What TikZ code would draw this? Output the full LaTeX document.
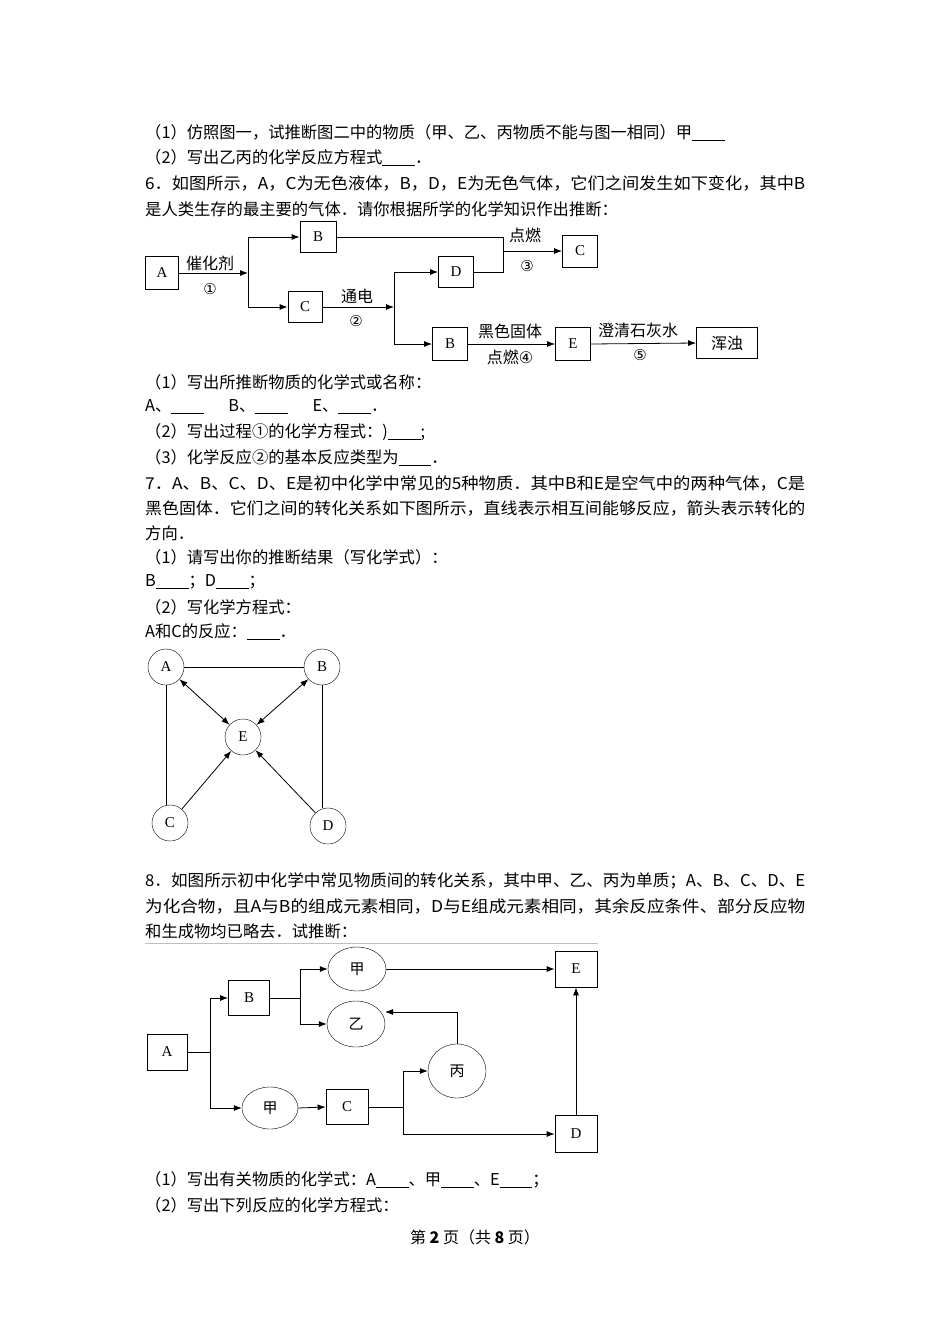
\documentclass[tikz,border=0pt]{standalone}
\usepackage{fontspec}
\usepackage{graphicx}
\setmainfont{Liberation Serif}
\newfontfamily\cjk{Noto Sans CJK SC}
\newfontfamily\sym{DejaVu Sans}
\usetikzlibrary{arrows.meta,shapes.geometric}
\newcommand{\jline}[1]{\resizebox{660pt}{\height}{#1}}
\begin{document}
\begin{tikzpicture}[x=1pt,y=-1pt,
  txt/.style={anchor=west,inner sep=0pt,font=\cjk\fontsize{16.3}{18}\selectfont},
  lbl/.style={inner sep=0pt,font=\cjk\fontsize{16}{18}\selectfont},
  bx/.style={draw,thick,inner sep=0pt,font=\fontsize{15}{16}\selectfont},
  cir/.style={draw,circle,minimum size=36pt,inner sep=0pt,font=\fontsize{15}{16}\selectfont},
  ell/.style={draw,ellipse,inner sep=0pt,font=\cjk\fontsize{15}{16}\selectfont},
  ar/.style={-{Latex[length=8pt,width=6pt]}},
  da/.style={{Latex[length=8pt,width=6pt]}-{Latex[length=8pt,width=6pt]}}]
\useasboundingbox[fill=white] (0,0) rectangle (950,1344);
\node[txt] (t1) at (145,133) {（1）仿照图一，试推断图二中的物质（甲、乙、丙物质不能与图一相同）甲\underline{\hspace{2em}}};
\node[txt] (t2) at (145,158) {（2）写出乙丙的化学反应方程式\underline{\hspace{2em}}．};
\node[txt] (t3) at (145,183) {\jline{6．如图所示，A，C为无色液体，B，D，E为无色气体，它们之间发生如下变化，其中B}};
\node[txt] (t4) at (145,209) {是人类生存的最主要的气体．请你根据所学的化学知识作出推断：};
\node[txt] (t5) at (145,382) {（1）写出所推断物质的化学式或名称：};
\node[txt] (t6) at (145,407) {A、\underline{\hspace{2em}}\hspace{1.5em}B、\underline{\hspace{2em}}\hspace{1.5em}E、\underline{\hspace{2em}}．};
\node[txt] (t7) at (145,432) {（2）写出过程①的化学方程式：)\underline{\hspace{2em}};};
\node[txt] (t8) at (145,458) {（3）化学反应②的基本反应类型为\underline{\hspace{2em}}．};
\node[txt] (t9) at (145,483) {\jline{7．A、B、C、D、E是初中化学中常见的5种物质．其中B和E是空气中的两种气体，C是}};
\node[txt] (t10) at (145,508) {\jline{黑色固体．它们之间的转化关系如下图所示，直线表示相互间能够反应，箭头表示转化的}};
\node[txt] (t11) at (145,533) {方向．};
\node[txt] (t12) at (145,557) {（1）请写出你的推断结果（写化学式）：};
\node[txt] (t13) at (145,582) {B\underline{\hspace{2em}}；D\underline{\hspace{2em}}；};
\node[txt] (t14) at (145,607) {（2）写化学方程式：};
\node[txt] (t15) at (145,632) {A和C的反应：\underline{\hspace{2em}}．};
\node[txt] (t16) at (145,881) {\jline{8．如图所示初中化学中常见物质间的转化关系，其中甲、乙、丙为单质；A、B、C、D、E}};
\node[txt] (t17) at (145,906) {\jline{为化合物，且A与B的组成元素相同，D与E组成元素相同，其余反应条件、部分反应物}};
\node[txt] (t18) at (145,931) {和生成物均已略去．试推断：};
\draw[gray!50,thick] (145,943) -- (598,943);
\node[txt] (t19) at (145,1180) {（1）写出有关物质的化学式：A\underline{\hspace{2em}}、甲\underline{\hspace{2em}}、E\underline{\hspace{2em}}；};
\node[txt] (t20) at (145,1205) {（2）写出下列反应的化学方程式：};
\node[lbl] (pg) at (475,1237) {第 \textbf{2} 页（共 \textbf{8} 页）};

% Diagram 1
\node[bx,minimum width=33pt,minimum height=33pt] (A1) at (162,273) {A};
\node[bx,minimum width=36pt,minimum height=31pt] (B1) at (318,237) {B};
\node[bx,minimum width=34pt,minimum height=31pt] (C1) at (305,307) {C};
\node[bx,minimum width=35pt,minimum height=31pt] (D1) at (456,272) {D};
\node[bx,minimum width=35pt,minimum height=32pt] (C2) at (580,251) {C};
\node[bx,minimum width=35pt,minimum height=33pt] (B2) at (450,344) {B};
\node[bx,minimum width=35pt,minimum height=33pt] (E1) at (573,344) {E};
\node[bx,minimum width=61pt,minimum height=31pt,font=\cjk\fontsize{16}{18}\selectfont] (Z1) at (727,343) {浑浊};
\coordinate (j1) at (248,273);
\coordinate (j2) at (394,307);
\coordinate (j3) at (503,251);
\draw[thick,ar] (A1.east) -- (j1);
\draw[thick] (j1|-B1.west) -- (j1|-C1.west);
\draw[thick,ar] (j1|-B1.west) -- (B1.west);
\draw[thick,ar] (j1|-C1.west) -- (C1.west);
\node[lbl] (l1) at (210,263) {催化剂};
\node[lbl,font=\sym\fontsize{15}{17}\selectfont] (l2) at (210,289) {①};
\draw[thick,ar] (C1.east) -- (j2);
\node[lbl] (l3) at (357,296) {通电};
\node[lbl,font=\sym\fontsize{15}{17}\selectfont] (l4) at (356,321) {②};
\draw[thick] (j2|-D1.west) -- (j2|-B2.west);
\draw[thick,ar] (j2|-D1.west) -- (D1.west);
\draw[thick,ar] (j2|-B2.west) -- (B2.west);
\draw[thick] (B1.east) -- (j3|-B1.east) -- (j3|-D1.east) -- (D1.east);
\draw[thick,ar] (j3) -- (C2.west);
\node[lbl] (l5) at (525,235) {点燃};
\node[lbl,font=\sym\fontsize{15}{17}\selectfont] (l6) at (527,266) {③};
\draw[thick,ar] (B2.east) -- (E1.west);
\node[lbl] (l7) at (510,331) {黑色固体};
\node[lbl] (l8) at (510,357) {点燃{\sym ④}};
\draw[thick,ar] (E1.east) -- (Z1.west);
\node[lbl] (l9) at (638,330) {澄清石灰水};
\node[lbl,font=\sym\fontsize{15}{17}\selectfont] (l10) at (640,355) {⑤};

% Diagram 2
\node[cir] (A2) at (166,667) {A};
\node[cir] (B3) at (322,667) {B};
\node[cir] (E2) at (243,737) {E};
\node[cir] (C3) at (170,823) {C};
\node[cir] (D2) at (328,826) {D};
\draw[thick] (A2) -- (B3);
\draw[thick] (A2) -- (A2|-C3.north);
\draw[thick] (B3) -- (B3|-D2.north);
\draw[thick,da] (A2) -- (E2);
\draw[thick,da] (B3) -- (E2);
\draw[thick,ar] (C3) -- (E2);
\draw[thick,ar] (D2) -- (E2);

% Diagram 3
\node[bx,minimum width=40pt,minimum height=36pt] (A3) at (167,1052) {A};
\node[bx,minimum width=41pt,minimum height=35pt] (B4) at (249,998) {B};
\node[ell,minimum width=58pt,minimum height=44pt] (J1) at (357,969) {甲};
\node[ell,minimum width=58pt,minimum height=46pt] (Y1) at (356,1024) {乙};
\node[ell,minimum width=56pt,minimum height=42pt] (J2) at (270,1108) {甲};
\node[bx,minimum width=42pt,minimum height=35pt] (C4) at (347,1107) {C};
\node[ell,minimum width=58pt,minimum height=54pt] (P1) at (457,1071) {丙};
\node[bx,minimum width=42pt,minimum height=37pt] (D3) at (576,1134) {D};
\node[bx,minimum width=42pt,minimum height=36pt] (E3) at (576,969) {E};
\coordinate (k1) at (210,1052);
\coordinate (k2) at (300,998);
\coordinate (k3) at (403,1107);
\coordinate (k4) at (457,1012);
\coordinate (k5) at (385,1012);
\draw[thick] (A3.east) -- (k1);
\draw[thick] (k1|-B4.west) -- (k1|-J2.west);
\draw[thick,ar] (k1|-B4.west) -- (B4.west);
\draw[thick,ar] (k1|-J2.west) -- (J2.west);
\draw[thick] (B4.east) -- (k2);
\draw[thick] (k2|-J1.west) -- (k2|-Y1.west);
\draw[thick,ar] (k2|-J1.west) -- (J1.west);
\draw[thick,ar] (k2|-Y1.west) -- (Y1.west);
\draw[thick,ar] (J1.east) -- (E3.west);
\draw[thick,ar] (J2.east) -- (C4.west);
\draw[thick] (C4.east) -- (k3);
\draw[thick] (k3|-P1.west) -- (k3|-D3.west);
\draw[thick,ar] (k3|-P1.west) -- (P1.west);
\draw[thick,ar] (k3|-D3.west) -- (D3.west);
\draw[thick,ar] (D3.north) -- (E3.south);
\draw[thick,ar] (P1.north) -- (k4) -- (k5);
\end{tikzpicture}
\end{document}
